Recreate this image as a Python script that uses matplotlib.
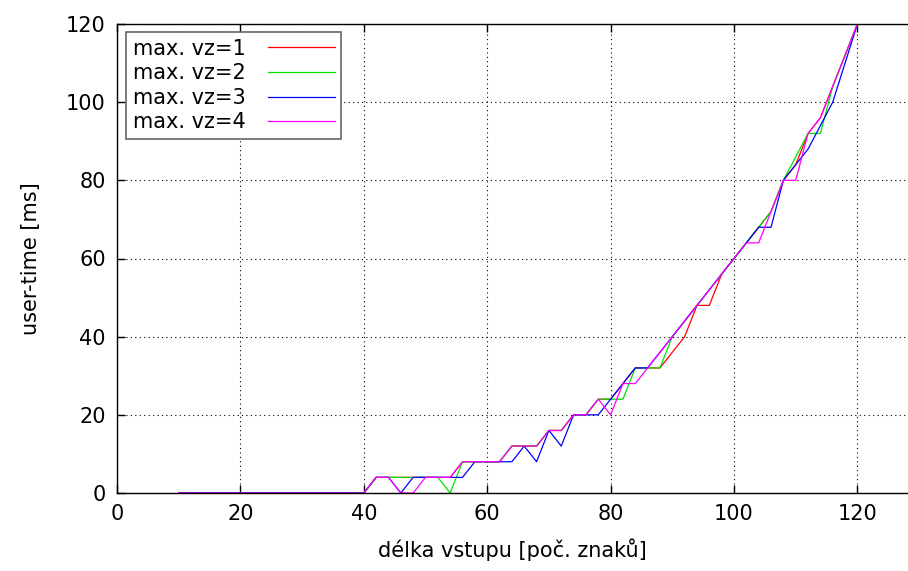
import matplotlib
matplotlib.use("Agg")
import matplotlib.pyplot as plt

# delka vstupu (x) a user-time [ms] pro jednotlive max. vz
delka = list(range(10, 122, 2))

zero = [0] * 16  # x = 10 .. 40

vz1 = zero + [4, 4, 4, 4, 4, 4, 4, 8, 8, 8, 8, 12, 12, 12, 16, 16, 20, 20,
              24, 24, 28, 32, 32, 32, 36, 40, 48, 48, 56, 60, 64, 68, 72,
              80, 84, 92, 96, 104, 112, 120]
vz2 = zero + [4, 4, 4, 4, 4, 4, 0, 8, 8, 8, 8, 12, 12, 12, 16, 16, 20, 20,
              24, 24, 24, 32, 32, 32, 40, 44, 48, 52, 56, 60, 64, 68, 72,
              80, 86, 92, 92, 104, 112, 120]
vz3 = zero + [4, 4, 0, 4, 4, 4, 4, 4, 8, 8, 8, 8, 12, 8, 16, 12, 20, 20,
              20, 24, 28, 32, 32, 36, 40, 44, 48, 52, 56, 60, 64, 68, 68,
              80, 84, 88, 94, 100, 110, 120]
vz4 = zero + [4, 4, 0, 0, 4, 4, 4, 8, 8, 8, 8, 12, 12, 12, 16, 16, 20, 20,
              24, 20, 28, 28, 32, 36, 40, 44, 48, 52, 56, 60, 64, 64, 72,
              80, 80, 92, 96, 104, 112, 120]

SERIES = [
    ("max. vz=1", vz1, "#ff0000"),
    ("max. vz=2", vz2, "#00e000"),
    ("max. vz=3", vz3, "#0000ff"),
    ("max. vz=4", vz4, "#ff00ff"),
]

plt.rcParams.update({
    "font.family": "DejaVu Sans",
    "font.size": 15,
})

fig = plt.figure(figsize=(9.08, 5.71), dpi=100)
ax = fig.add_axes([117 / 908, 1 - 493 / 571, 1 - 117 / 908, (493 - 24) / 571])

for label, hodnoty, barva in SERIES:
    ax.plot(delka, hodnoty, color=barva, lw=0.9, label=label)

ax.set_xlim(0, 128.2)
ax.set_ylim(0, 120)
ax.set_xticks(range(0, 121, 20))
ax.set_yticks(range(0, 121, 20))
ax.grid(True, color="black", linestyle=(0, (1, 3)), lw=0.8)
ax.tick_params(direction="in", length=6, width=1, top=True, right=False,
               pad=8, colors="black")
ax.spines["right"].set_visible(False)
for s in ("left", "bottom", "top"):
    ax.spines[s].set_linewidth(1)

ax.set_xlabel("délka vstupu [poč. znaků]", labelpad=10)
ax.set_ylabel("user-time [ms]", labelpad=18)

leg = ax.legend(loc="upper left", bbox_to_anchor=(0.012, 0.982),
                markerfirst=False, fancybox=False, framealpha=1,
                handlelength=3.2, handletextpad=1.1, borderpad=0.3,
                labelspacing=0.22, borderaxespad=0)
leg.get_frame().set_edgecolor("#666666")
leg.get_frame().set_linewidth(1.2)

fig.savefig("out.png", dpi=100)
